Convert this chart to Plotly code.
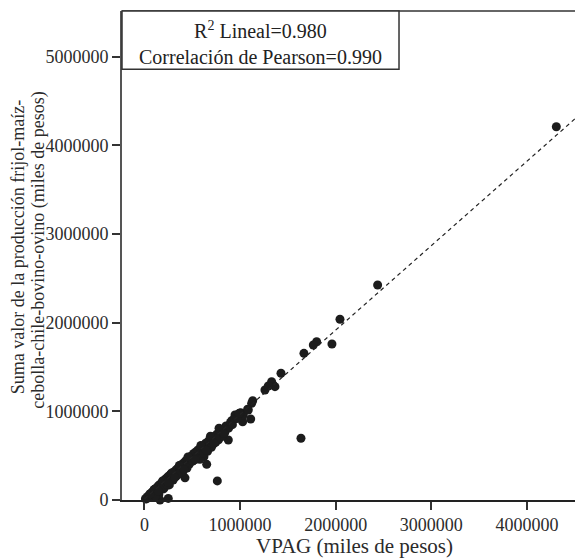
import plotly.graph_objects as go

# VPAG (miles de pesos)
vpag = [
    4308000, 2439000, 2045000, 1801000, 1766000, 1961000, 1668000, 1637000,
    1428000, 1330000, 1365000, 1260000, 1295000, 1132000, 1121000, 1079000,
    1111000, 1027000, 1006000, 947000, 1034000, 912000, 853000, 877000,
    807000, 755000, 703000, 633000, 598000, 622000, 651000, 762000,
    999000, 1086000, 929000, 860000, 424000, 249000, 162000,
    10000, 20000, 30000, 40000, 50000, 60000, 70000, 80000, 85000, 95000,
    100000, 110000, 120000, 125000, 135000, 140000, 150000, 155000, 165000,
    170000, 180000, 185000, 195000, 200000, 210000, 215000, 225000, 230000,
    240000, 250000, 260000, 265000, 275000, 280000, 290000, 300000, 310000,
    320000, 330000, 340000, 350000, 360000, 370000, 380000, 390000, 400000,
    410000, 420000, 430000, 440000, 450000, 460000, 470000, 480000, 495000,
    505000, 515000, 525000, 540000, 550000, 560000, 575000, 585000, 600000,
    610000, 625000, 640000, 655000, 670000, 685000, 700000, 715000, 730000,
    745000, 760000, 775000, 790000, 810000, 825000, 840000, 860000, 880000,
    900000, 920000, 945000, 970000, 990000,
    130000, 90000, 200000, 300000, 400000, 555000, 700000, 750000, 180000,
    150000, 260000, 330000, 470000, 580000, 660000, 215000, 355000, 505000,
    620000, 115000, 235000, 445000,
    60000, 105000, 145000, 190000, 245000, 285000, 315000, 365000, 415000,
    455000, 530000, 590000, 645000, 690000, 725000, 780000, 830000,
]
# Suma valor de la producción (miles de pesos)
suma = [
    4210000, 2425000, 2038000, 1785000, 1748000, 1759000, 1654000, 696000,
    1429000, 1334000, 1278000, 1240000, 1286000, 1120000, 1090000, 1023000,
    913000, 883000, 985000, 959000, 959000, 895000, 835000, 677000,
    789000, 733000, 677000, 601000, 545000, 489000, 402000, 215000,
    978000, 1015000, 902000, 827000, 250000, 18000, 0,
    14000, 12000, 38000, 25000, 58000, 40000, 78000, 55000, 95000, 72000,
    115000, 88000, 130000, 95000, 148000, 110000, 165000, 120000, 178000,
    140000, 192000, 150000, 210000, 165000, 225000, 180000, 240000, 190000,
    258000, 210000, 275000, 228000, 292000, 240000, 300000, 255000, 318000,
    285000, 340000, 295000, 360000, 315000, 378000, 330000, 400000, 350000,
    418000, 372000, 440000, 392000, 460000, 410000, 482000, 430000, 500000,
    450000, 525000, 470000, 545000, 495000, 565000, 505000, 585000, 540000,
    610000, 555000, 640000, 575000, 665000, 610000, 690000, 625000, 715000,
    650000, 745000, 680000, 770000, 715000, 795000, 760000, 830000, 810000,
    875000, 850000, 920000, 920000, 975000,
    55000, 30000, 125000, 225000, 320000, 465000, 595000, 690000, 135000,
    60000, 170000, 265000, 405000, 460000, 550000, 150000, 290000, 440000,
    530000, 45000, 175000, 360000,
    70000, 120000, 100000, 215000, 200000, 305000, 255000, 390000, 345000,
    485000, 455000, 615000, 560000, 720000, 640000, 810000, 750000,
]

fit_slope = 0.952
fit_intercept = 12000
r2_text = "R<sup>2</sup> Lineal=0.980"
pearson_text = "Correlación de Pearson=0.990"
x_ticks = [0, 1000000, 2000000, 3000000, 4000000]
y_ticks = [0, 1000000, 2000000, 3000000, 4000000, 5000000]
x_range = [-235000, 4587000]
y_range = [0, 5515000]

FONT = "Liberation Serif"
fig = go.Figure()
fig.add_trace(go.Scatter(
    x=vpag, y=suma, mode="markers",
    marker=dict(size=9, color="#1c1c1c", line=dict(width=0)),
    cliponaxis=False, showlegend=False, hoverinfo="skip"))

fx = [0, x_range[1]]
fy = [fit_slope * v + fit_intercept for v in fx]
fig.add_trace(go.Scatter(
    x=fx, y=fy, mode="lines",
    line=dict(color="#222222", width=1.2, dash="4px,3.5px"),
    showlegend=False, hoverinfo="skip"))

fig.update_layout(
    width=575, height=550,
    margin=dict(l=114, r=0, t=3, b=58),
    paper_bgcolor="white", plot_bgcolor="white",
    font=dict(family=FONT, size=18, color="#2b2b2b"),
    xaxis=dict(range=x_range, tickvals=x_ticks, tickformat="d",
               showgrid=False, zeroline=False, showline=True,
               linecolor="#222222", linewidth=1.5,
               ticks="outside", ticklen=8, tickwidth=1.5, tickcolor="#333333",
               tickfont=dict(family=FONT, size=18, color="#2b2b2b")),
    yaxis=dict(range=y_range, tickvals=y_ticks, tickformat="d",
               showgrid=False, zeroline=False, showline=True,
               linecolor="#555555", linewidth=2,
               ticks="outside", ticklen=8, tickwidth=1.5, tickcolor="#333333",
               tickfont=dict(family=FONT, size=18, color="#2b2b2b")),
    shapes=[
        dict(type="line", xref="paper", yref="paper", x0=0, x1=1, y0=1, y1=1,
             line=dict(color="#333333", width=1.5)),
        dict(type="rect", xref="paper", yref="paper", x0=0, x1=0.6009,
             y0=0.8808, y1=1.0, line=dict(color="#333333", width=1.5),
             fillcolor="white", layer="above"),
    ],
    annotations=[
        dict(text=r2_text + "<br>" + pearson_text, xref="paper", yref="paper",
             x=0.3005, y=0.9346, xanchor="center", yanchor="middle",
             showarrow=False, align="center",
             font=dict(family=FONT, size=20, color="#222222")),
        dict(text="VPAG (miles de pesos)", xref="paper", yref="paper",
             x=0.505, y=-0.094, xanchor="center", yanchor="middle",
             showarrow=False, font=dict(family=FONT, size=21, color="#2b2b2b")),
        dict(text="Suma valor de la producción frijol-maíz-", xref="paper",
             yref="paper", x=-0.2256, y=0.517, xanchor="center",
             yanchor="middle", textangle=-90, showarrow=False,
             font=dict(family=FONT, size=18, color="#2b2b2b")),
        dict(text="cebolla-chile-bovino-ovino (miles de pesos)", xref="paper",
             yref="paper", x=-0.18, y=0.51, xanchor="center",
             yanchor="middle", textangle=-90, showarrow=False,
             font=dict(family=FONT, size=18, color="#2b2b2b")),
    ],
)
fig.write_html("out.html")
